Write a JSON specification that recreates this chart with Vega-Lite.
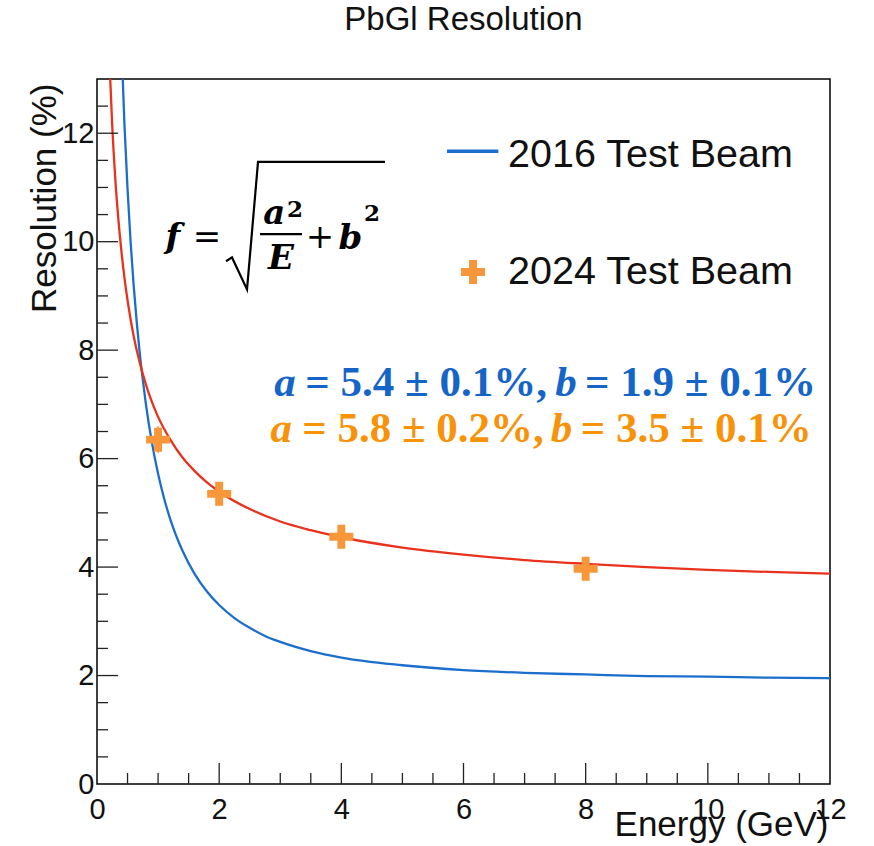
{
  "$schema": "https://vega.github.io/schema/vega-lite/v6.json",
  "autosize": {"type": "none"},
  "padding": {"left": 97, "top": 79, "right": 44, "bottom": 62},
  "width": 733,
  "height": 705,
  "title": {"text": "PbGl Resolution", "fontSize": 33, "font": "Liberation Sans", "fontWeight": "normal", "anchor": "middle", "offset": 16, "baseline": "alphabetic", "color": "#111111"},
  "config": {
    "view": {"stroke": "#000000", "strokeWidth": 1.5},
    "axis": {"grid": false, "labelFont": "Liberation Sans", "titleFont": "Liberation Sans", "labelColor": "#111111", "titleColor": "#111111", "titleFontWeight": "normal"}
  },
  "datasets": {
    "curves": [
      {"E": 0.35, "f": 15.55, "fit": "2016 Test Beam"},
      {"E": 0.4, "f": 13.63, "fit": "2016 Test Beam"},
      {"E": 0.45, "f": 12.15, "fit": "2016 Test Beam"},
      {"E": 0.5, "f": 10.97, "fit": "2016 Test Beam"},
      {"E": 0.55, "f": 10.0, "fit": "2016 Test Beam"},
      {"E": 0.6, "f": 9.2, "fit": "2016 Test Beam"},
      {"E": 0.65, "f": 8.52, "fit": "2016 Test Beam"},
      {"E": 0.7, "f": 7.94, "fit": "2016 Test Beam"},
      {"E": 0.75, "f": 7.45, "fit": "2016 Test Beam"},
      {"E": 0.8, "f": 7.01, "fit": "2016 Test Beam"},
      {"E": 0.9, "f": 6.29, "fit": "2016 Test Beam"},
      {"E": 1.0, "f": 5.72, "fit": "2016 Test Beam"},
      {"E": 1.1, "f": 5.26, "fit": "2016 Test Beam"},
      {"E": 1.2, "f": 4.88, "fit": "2016 Test Beam"},
      {"E": 1.4, "f": 4.3, "fit": "2016 Test Beam"},
      {"E": 1.6, "f": 3.87, "fit": "2016 Test Beam"},
      {"E": 1.8, "f": 3.55, "fit": "2016 Test Beam"},
      {"E": 2.0, "f": 3.3, "fit": "2016 Test Beam"},
      {"E": 2.25, "f": 3.06, "fit": "2016 Test Beam"},
      {"E": 2.5, "f": 2.88, "fit": "2016 Test Beam"},
      {"E": 2.75, "f": 2.73, "fit": "2016 Test Beam"},
      {"E": 3.0, "f": 2.62, "fit": "2016 Test Beam"},
      {"E": 3.5, "f": 2.45, "fit": "2016 Test Beam"},
      {"E": 4.0, "f": 2.33, "fit": "2016 Test Beam"},
      {"E": 5.0, "f": 2.19, "fit": "2016 Test Beam"},
      {"E": 6.0, "f": 2.1, "fit": "2016 Test Beam"},
      {"E": 7.0, "f": 2.05, "fit": "2016 Test Beam"},
      {"E": 8.0, "f": 2.02, "fit": "2016 Test Beam"},
      {"E": 9.0, "f": 1.99, "fit": "2016 Test Beam"},
      {"E": 10.0, "f": 1.98, "fit": "2016 Test Beam"},
      {"E": 11.0, "f": 1.96, "fit": "2016 Test Beam"},
      {"E": 12.0, "f": 1.95, "fit": "2016 Test Beam"},
      {"E": 0.18, "f": 14.11, "fit": "2024 Test Beam"},
      {"E": 0.2, "f": 13.43, "fit": "2024 Test Beam"},
      {"E": 0.25, "f": 12.12, "fit": "2024 Test Beam"},
      {"E": 0.3, "f": 11.15, "fit": "2024 Test Beam"},
      {"E": 0.35, "f": 10.41, "fit": "2024 Test Beam"},
      {"E": 0.4, "f": 9.82, "fit": "2024 Test Beam"},
      {"E": 0.45, "f": 9.33, "fit": "2024 Test Beam"},
      {"E": 0.5, "f": 8.92, "fit": "2024 Test Beam"},
      {"E": 0.6, "f": 8.26, "fit": "2024 Test Beam"},
      {"E": 0.7, "f": 7.77, "fit": "2024 Test Beam"},
      {"E": 0.8, "f": 7.37, "fit": "2024 Test Beam"},
      {"E": 0.9, "f": 7.04, "fit": "2024 Test Beam"},
      {"E": 1.0, "f": 6.77, "fit": "2024 Test Beam"},
      {"E": 1.2, "f": 6.35, "fit": "2024 Test Beam"},
      {"E": 1.4, "f": 6.02, "fit": "2024 Test Beam"},
      {"E": 1.6, "f": 5.77, "fit": "2024 Test Beam"},
      {"E": 1.8, "f": 5.56, "fit": "2024 Test Beam"},
      {"E": 2.0, "f": 5.39, "fit": "2024 Test Beam"},
      {"E": 2.5, "f": 5.07, "fit": "2024 Test Beam"},
      {"E": 3.0, "f": 4.84, "fit": "2024 Test Beam"},
      {"E": 3.5, "f": 4.68, "fit": "2024 Test Beam"},
      {"E": 4.0, "f": 4.55, "fit": "2024 Test Beam"},
      {"E": 5.0, "f": 4.36, "fit": "2024 Test Beam"},
      {"E": 6.0, "f": 4.23, "fit": "2024 Test Beam"},
      {"E": 7.0, "f": 4.13, "fit": "2024 Test Beam"},
      {"E": 8.0, "f": 4.06, "fit": "2024 Test Beam"},
      {"E": 9.0, "f": 4.0, "fit": "2024 Test Beam"},
      {"E": 10.0, "f": 3.95, "fit": "2024 Test Beam"},
      {"E": 11.0, "f": 3.91, "fit": "2024 Test Beam"},
      {"E": 12.0, "f": 3.88, "fit": "2024 Test Beam"}
    ],
    "points": [
      {"E": 1, "res": 6.35, "lo": 6.1, "hi": 6.6},
      {"E": 2, "res": 5.35, "lo": 5.2, "hi": 5.5},
      {"E": 4, "res": 4.56, "lo": 4.45, "hi": 4.67},
      {"E": 8, "res": 3.97, "lo": 3.88, "hi": 4.06}
    ],
    "xMajor": [{"v": 2}, {"v": 4}, {"v": 6}, {"v": 8}, {"v": 10}],
    "xMinor": [{"v": 0.5}, {"v": 1}, {"v": 1.5}, {"v": 2.5}, {"v": 3}, {"v": 3.5}, {"v": 4.5}, {"v": 5}, {"v": 5.5}, {"v": 6.5}, {"v": 7}, {"v": 7.5}, {"v": 8.5}, {"v": 9}, {"v": 9.5}, {"v": 10.5}, {"v": 11}, {"v": 11.5}],
    "yMajor": [{"v": 2}, {"v": 4}, {"v": 6}, {"v": 8}, {"v": 10}, {"v": 12}],
    "yMinor": [{"v": 0.5}, {"v": 1}, {"v": 1.5}, {"v": 2.5}, {"v": 3}, {"v": 3.5}, {"v": 4.5}, {"v": 5}, {"v": 5.5}, {"v": 6.5}, {"v": 7}, {"v": 7.5}, {"v": 8.5}, {"v": 9}, {"v": 9.5}, {"v": 10.5}, {"v": 11}, {"v": 11.5}, {"v": 12.5}],
    "legendLine": [
      {"E": 5.73, "y": 11.67},
      {"E": 6.57, "y": 11.67}
    ],
    "legendCross": [
      {"E": 6.156, "y": 9.44}
    ],
    "legendText": [
      {"E": 6.73, "y": 11.6, "t": "2016 Test Beam"},
      {"E": 6.73, "y": 9.44, "t": "2024 Test Beam"}
    ],
    "radical": [
      {"k": 1, "E": 2.112, "y": 9.64},
      {"k": 2, "E": 2.21, "y": 9.71},
      {"k": 3, "E": 2.456, "y": 9.12},
      {"k": 4, "E": 2.636, "y": 11.47},
      {"k": 5, "E": 4.715, "y": 11.47}
    ],
    "fracBar": [
      {"E": 2.669, "E2": 3.356, "y": 10.14}
    ],
    "formulaItalic": [
      {"E": 1.24, "y": 9.88, "t": "f"},
      {"E": 2.9, "y": 10.32, "t": "a"},
      {"E": 3.01, "y": 9.49, "t": "E"},
      {"E": 4.15, "y": 9.86, "t": "b"}
    ],
    "formulaUpright": [
      {"E": 1.8, "y": 9.88, "t": "="},
      {"E": 3.65, "y": 9.88, "t": "+"}
    ],
    "formulaSup": [
      {"E": 3.11, "y": 10.46, "t": "2"},
      {"E": 4.37, "y": 10.38, "t": "2"}
    ],
    "annItalic": [
      {"E": 2.9, "y": 7.155, "t": "a", "g": "2016"},
      {"E": 7.5, "y": 7.155, "t": "b", "g": "2016"},
      {"E": 2.84, "y": 6.31, "t": "a", "g": "2024"},
      {"E": 7.43, "y": 6.31, "t": "b", "g": "2024"}
    ],
    "annUpright": [
      {"E": 3.41, "y": 7.155, "t": "= 5.4 ± 0.1%,", "g": "2016"},
      {"E": 7.99, "y": 7.155, "t": "= 1.9 ± 0.1%", "g": "2016"},
      {"E": 3.36, "y": 6.31, "t": "= 5.8 ± 0.2%,", "g": "2024"},
      {"E": 7.92, "y": 6.31, "t": "= 3.5 ± 0.1%", "g": "2024"}
    ]
  },
  "layer": [
    {
      "data": {"name": "curves"},
      "mark": {"type": "line", "clip": true, "interpolate": "monotone", "strokeWidth": 2.3},
      "encoding": {
        "x": {"field": "E", "type": "quantitative", "scale": {"domain": [0, 12], "nice": false, "zero": false},
          "axis": {"orient": "bottom", "values": [0, 2, 4, 6, 8, 10, 12], "format": ".0f", "ticks": false, "domain": false, "labelPadding": 11, "labelFontSize": 29, "labelFlush": false, "labelOverlap": false,
            "title": "Energy (GeV)", "titleFontSize": 35, "titleAlign": "right", "titleAnchor": "end", "titleBaseline": "alphabetic", "titleX": 731, "titleY": 51}},
        "y": {"field": "f", "type": "quantitative", "scale": {"domain": [0, 13], "nice": false, "zero": false},
          "axis": {"orient": "left", "values": [0, 2, 4, 6, 8, 10, 12], "format": ".0f", "ticks": false, "domain": false, "labelPadding": 3, "labelFontSize": 29, "labelFlush": false, "labelOverlap": false,
            "title": "Resolution (%)", "titleFontSize": 35, "titleAngle": -90, "titleAlign": "right", "titleAnchor": "end", "titleBaseline": "alphabetic", "titleX": -42, "titleY": 4}},
        "color": {"field": "fit", "type": "nominal", "scale": {"domain": ["2016 Test Beam", "2024 Test Beam"], "range": ["#1C6ECD", "#E8321E"]}, "legend": null}
      }
    },
    {
      "data": {"name": "xMajor"},
      "mark": {"type": "rule", "color": "#222222", "strokeWidth": 1.3},
      "encoding": {
        "x": {"field": "v", "type": "quantitative"},
        "y": {"datum": 0},
        "y2": {"datum": 0.387}
      }
    },
    {
      "data": {"name": "xMinor"},
      "mark": {"type": "rule", "color": "#222222", "strokeWidth": 1.3},
      "encoding": {
        "x": {"field": "v", "type": "quantitative"},
        "y": {"datum": 0},
        "y2": {"datum": 0.203}
      }
    },
    {
      "data": {"name": "yMajor"},
      "mark": {"type": "rule", "color": "#222222", "strokeWidth": 1.3},
      "encoding": {
        "y": {"field": "v", "type": "quantitative"},
        "x": {"datum": 0},
        "x2": {"datum": 0.344}
      }
    },
    {
      "data": {"name": "yMinor"},
      "mark": {"type": "rule", "color": "#222222", "strokeWidth": 1.3},
      "encoding": {
        "y": {"field": "v", "type": "quantitative"},
        "x": {"datum": 0},
        "x2": {"datum": 0.18}
      }
    },
    {
      "data": {"name": "points"},
      "mark": {"type": "rule", "color": "#F8963A", "strokeWidth": 1.5},
      "encoding": {
        "x": {"field": "E", "type": "quantitative"},
        "y": {"field": "lo", "type": "quantitative"},
        "y2": {"field": "hi"}
      }
    },
    {
      "data": {"name": "points"},
      "mark": {"type": "point", "shape": "M-1,-0.33H-0.33V-1H0.33V-0.33H1V0.33H0.33V1H-0.33V0.33H-1Z", "filled": true, "size": 576, "color": "#F8963A", "opacity": 1},
      "encoding": {
        "x": {"field": "E", "type": "quantitative"},
        "y": {"field": "res", "type": "quantitative"}
      }
    },
    {
      "data": {"name": "legendLine"},
      "mark": {"type": "line", "color": "#1C6ECD", "strokeWidth": 3.5},
      "encoding": {
        "x": {"field": "E", "type": "quantitative"},
        "y": {"field": "y", "type": "quantitative"}
      }
    },
    {
      "data": {"name": "legendCross"},
      "mark": {"type": "point", "shape": "M-1,-0.33H-0.33V-1H0.33V-0.33H1V0.33H0.33V1H-0.33V0.33H-1Z", "filled": true, "size": 576, "color": "#F8963A", "opacity": 1},
      "encoding": {
        "x": {"field": "E", "type": "quantitative"},
        "y": {"field": "y", "type": "quantitative"}
      }
    },
    {
      "data": {"name": "legendText"},
      "mark": {"type": "text", "align": "left", "baseline": "middle", "font": "Liberation Sans", "fontSize": 39.5, "color": "#111111"},
      "encoding": {
        "x": {"field": "E", "type": "quantitative"},
        "y": {"field": "y", "type": "quantitative"},
        "text": {"field": "t"}
      }
    },
    {
      "data": {"name": "radical"},
      "mark": {"type": "line", "color": "#000000", "strokeWidth": 2.2, "strokeJoin": "miter"},
      "encoding": {
        "x": {"field": "E", "type": "quantitative"},
        "y": {"field": "y", "type": "quantitative"},
        "order": {"field": "k"}
      }
    },
    {
      "data": {"name": "fracBar"},
      "mark": {"type": "rule", "color": "#000000", "strokeWidth": 2.2},
      "encoding": {
        "x": {"field": "E", "type": "quantitative"},
        "x2": {"field": "E2"},
        "y": {"field": "y", "type": "quantitative"}
      }
    },
    {
      "data": {"name": "formulaItalic"},
      "mark": {"type": "text", "align": "center", "baseline": "alphabetic", "font": "DejaVu Serif", "fontStyle": "italic", "fontWeight": "bold", "fontSize": 34, "color": "#000000"},
      "encoding": {
        "x": {"field": "E", "type": "quantitative"},
        "y": {"field": "y", "type": "quantitative"},
        "text": {"field": "t"}
      }
    },
    {
      "data": {"name": "formulaUpright"},
      "mark": {"type": "text", "align": "center", "baseline": "alphabetic", "font": "DejaVu Serif", "fontSize": 34, "color": "#000000"},
      "encoding": {
        "x": {"field": "E", "type": "quantitative"},
        "y": {"field": "y", "type": "quantitative"},
        "text": {"field": "t"}
      }
    },
    {
      "data": {"name": "formulaSup"},
      "mark": {"type": "text", "align": "left", "baseline": "alphabetic", "font": "DejaVu Serif", "fontWeight": "bold", "fontSize": 23, "color": "#000000"},
      "encoding": {
        "x": {"field": "E", "type": "quantitative"},
        "y": {"field": "y", "type": "quantitative"},
        "text": {"field": "t"}
      }
    },
    {
      "data": {"name": "annItalic"},
      "mark": {"type": "text", "align": "left", "baseline": "alphabetic", "font": "Liberation Serif", "fontStyle": "italic", "fontWeight": "bold", "fontSize": 43},
      "encoding": {
        "x": {"field": "E", "type": "quantitative"},
        "y": {"field": "y", "type": "quantitative"},
        "text": {"field": "t"},
        "color": {"field": "g", "type": "nominal", "scale": {"domain": ["2016", "2024"], "range": ["#1565C8", "#F79209"]}, "legend": null}
      }
    },
    {
      "data": {"name": "annUpright"},
      "mark": {"type": "text", "align": "left", "baseline": "alphabetic", "font": "Liberation Serif", "fontWeight": "bold", "fontSize": 43},
      "encoding": {
        "x": {"field": "E", "type": "quantitative"},
        "y": {"field": "y", "type": "quantitative"},
        "text": {"field": "t"},
        "color": {"field": "g", "type": "nominal", "scale": {"domain": ["2016", "2024"], "range": ["#1565C8", "#F79209"]}, "legend": null}
      }
    }
  ],
  "resolve": {"scale": {"color": "independent"}}
}
